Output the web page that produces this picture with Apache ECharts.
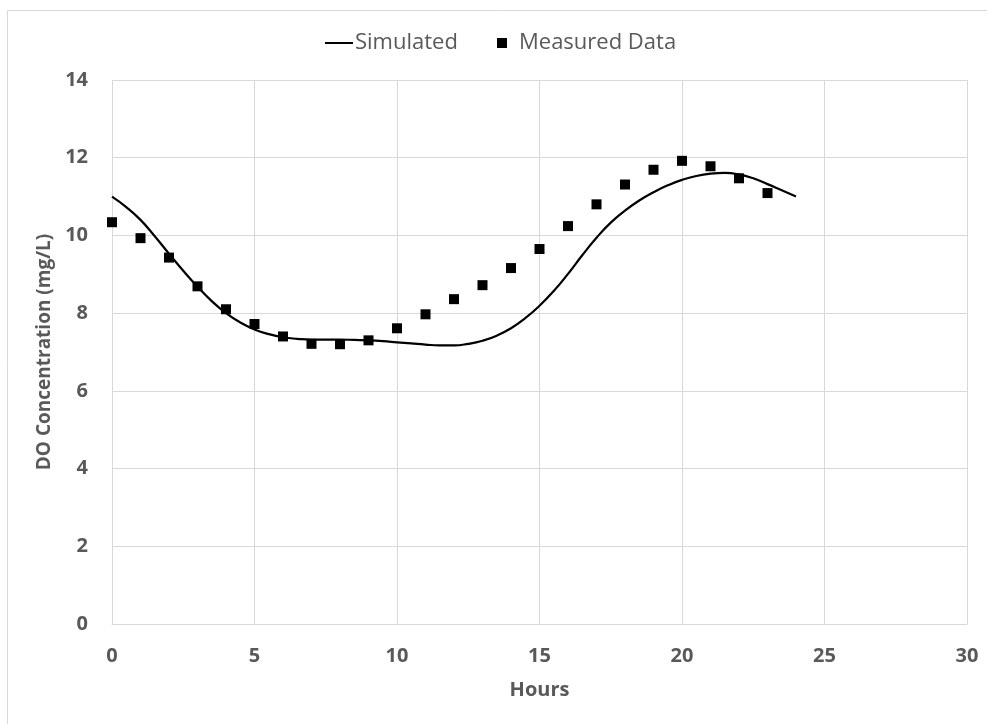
<!DOCTYPE html>
<html>
<head>
<meta charset="utf-8">
<script src="https://cdn.jsdelivr.net/npm/echarts@6/dist/echarts.min.js"></script>
<style>
  html, body { margin: 0; padding: 0; background: #fff; }
  #chart { width: 987px; height: 724px; }
</style>
</head>
<body>
<div id="chart"></div>
<script>
// hours for the simulated curve (read every half hour) and its values (mg/L)
const simHours = [
  0, 0.5, 1, 1.5, 2, 2.5, 3, 3.5, 4, 4.5, 5, 5.5, 6, 6.5, 7, 7.5, 8, 8.5, 9, 9.5, 10, 10.5, 11, 11.5,
  12, 12.5, 13, 13.5, 14, 14.5, 15, 15.5, 16, 16.5, 17, 17.5, 18, 18.5, 19, 19.5, 20, 20.5, 21, 21.5,
  22, 22.5, 23, 23.5, 24,
]
const simValues = [
  11.0, 10.73, 10.4, 9.98, 9.53, 9.09, 8.68, 8.31, 8.0, 7.76, 7.58, 7.46, 7.38, 7.34, 7.32, 7.32, 7.32, 7.31, 7.3, 7.28, 7.25, 7.22, 7.19, 7.17,
  7.17, 7.21, 7.29, 7.42, 7.61, 7.87, 8.19, 8.57, 9.01, 9.49, 9.94, 10.33, 10.64, 10.9, 11.11, 11.29, 11.43, 11.53, 11.59, 11.61,
  11.57, 11.47, 11.32, 11.16, 11.0,
]

// measured points
const measHours = [0, 1, 2, 3, 4, 5, 6, 7, 8, 9, 10, 11, 12, 13, 14, 15, 16, 17, 18, 19, 20, 21, 22, 23]
const measValues = [10.34, 9.93, 9.43, 8.69, 8.1, 7.72, 7.4, 7.21, 7.2, 7.3, 7.61, 7.97, 8.36, 8.72, 9.16, 9.65, 10.24, 10.8, 11.31, 11.69, 11.92, 11.78, 11.47, 11.09]

const xTicks = { min: 0, max: 30, interval: 5 }
const yTicks = { min: 0, max: 14, interval: 2 }

const textColor = '#595959'
const gridColor = '#d9d9d9'
const font = '"Open Sans", Lato, sans-serif'

const myChart = echarts.init(document.getElementById('chart'))
myChart.setOption({
  animation: false,
  textStyle: { fontFamily: font },
  graphic: [
    {
      type: 'rect',
      shape: { x: 7.5, y: 10.5, width: 1000, height: 800 },
      style: { fill: 'none', stroke: gridColor, lineWidth: 1 },
      silent: true,
    },
  ],
  legend: [
    {
      data: [{ name: 'Simulated', icon: 'rect' }],
      left: 320,
      top: 27,
      itemWidth: 28,
      itemHeight: 2,
      textStyle: { color: textColor, fontSize: 22, fontFamily: font, padding: [0, 0, 0, -3] },
    },
    {
      data: [{ name: 'Measured Data', icon: 'rect' }],
      left: 492,
      top: 27,
      itemWidth: 10,
      itemHeight: 10,
      textStyle: { color: textColor, fontSize: 22, fontFamily: font, padding: [0, 0, 0, 7] },
    },
  ],
  grid: {
    left: 112,
    right: 20,
    top: 80,
    bottom: 100,
    containLabel: false,
  },
  xAxis: {
    type: 'value',
    min: xTicks.min,
    max: xTicks.max,
    interval: xTicks.interval,
    name: 'Hours',
    nameLocation: 'middle',
    nameGap: 56,
    nameTextStyle: { color: textColor, fontSize: 20, fontWeight: 'bold', fontFamily: font },
    axisLine: { show: true, lineStyle: { color: gridColor, width: 1 } },
    axisTick: { show: false },
    axisLabel: { color: textColor, fontSize: 20, fontWeight: 'bold', margin: 22, fontFamily: font },
    splitLine: { show: true, lineStyle: { color: gridColor, width: 1 } },
  },
  yAxis: {
    type: 'value',
    min: yTicks.min,
    max: yTicks.max,
    interval: yTicks.interval,
    name: 'DO Concentration (mg/L)',
    nameLocation: 'middle',
    nameGap: 58,
    nameTextStyle: { color: textColor, fontSize: 19, fontWeight: 'bold', fontFamily: font },
    axisLine: { show: false },
    axisTick: { show: false },
    axisLabel: { color: textColor, fontSize: 20, fontWeight: 'bold', margin: 24, fontFamily: font },
    splitLine: { show: true, lineStyle: { color: gridColor, width: 1 } },
  },
  series: [
    {
      name: 'Simulated',
      type: 'line',
      smooth: 0.5,
      symbol: 'none',
      lineStyle: { color: '#000', width: 2.2 },
      itemStyle: { color: '#000' },
      data: simHours.map((h, i) => [h, simValues[i]]),
    },
    {
      name: 'Measured Data',
      type: 'scatter',
      symbol: 'rect',
      symbolSize: 10,
      itemStyle: { color: '#000', opacity: 1 },
      data: measHours.map((h, i) => [h, measValues[i]]),
    },
  ],
})
window.addEventListener('resize', () => {
  myChart.resize()
})
</script>
</body>
</html>
